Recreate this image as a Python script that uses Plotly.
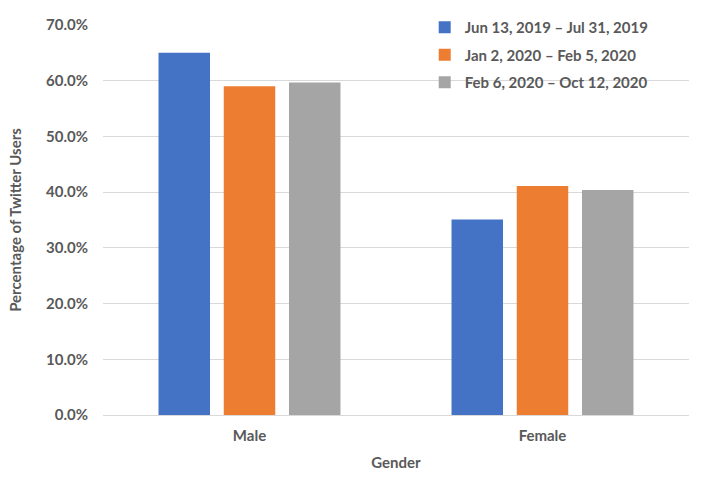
import plotly.graph_objects as go

categories = ["Male", "Female"]
series_names = ["Jun 13, 2019 – Jul 31, 2019", "Jan 2, 2020 – Feb 5, 2020", "Feb 6, 2020 – Oct 12, 2020"]
series_values = [
    [0.650, 0.351],
    [0.590, 0.411],
    [0.597, 0.404],
]
colors = ["#4472C4", "#ED7D31", "#A5A5A5"]
y_ticks = [0, 0.1, 0.2, 0.3, 0.4, 0.5, 0.6, 0.7]

FONT = "Lato"
GREY = "#595959"

fig = go.Figure()
for i, (name, vals) in enumerate(zip(series_names, series_values)):
    fig.add_trace(go.Bar(
        x=categories, y=vals, name=name,
        marker=dict(color=colors[i], line=dict(width=0)),
        legendgroup=f"g{i}",
    ))

fig.update_layout(
    width=712, height=484,
    margin=dict(l=103, r=23, t=24, b=69),
    paper_bgcolor="white", plot_bgcolor="white",
    barmode="group", bargap=0.332, bargroupgap=0.211,
    font=dict(family=FONT, size=16, color=GREY),
    showlegend=True,
    legend=dict(
        x=0.549, y=1.033, xanchor="left", yanchor="top",
        font=dict(family=FONT, size=15, color=GREY, weight="bold"),
        bgcolor="rgba(0,0,0,0)", tracegroupgap=5,
        itemwidth=30,
    ),
    xaxis=dict(
        title=dict(text="Gender", font=dict(family=FONT, size=15, color=GREY, weight="bold"), standoff=14),
        tickfont=dict(family=FONT, size=15, color=GREY, weight="bold"),
        showline=False, ticks="", showgrid=False, ticklabelstandoff=10,
    ),
    yaxis=dict(
        title=dict(text="Percentage of Twitter Users", font=dict(family=FONT, size=15, color=GREY, weight="bold"), standoff=20),
        range=[0, 0.7], tickvals=y_ticks, tickformat=".1%",
        tickfont=dict(family=FONT, size=15, color=GREY, weight="bold"),
        showgrid=True, gridcolor="#D9D9D9", gridwidth=1.2,
        zeroline=True, zerolinecolor="#D9D9D9", zerolinewidth=1.2,
        showline=False, ticks="", ticklabelstandoff=14,
    ),
)

fig.write_html("out.html", config={"displayModeBar": False},
               post_script="document.body.style.margin='0';")
